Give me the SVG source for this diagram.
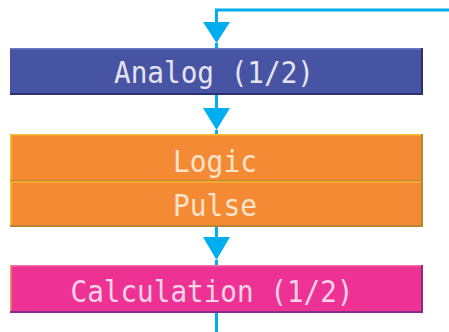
<svg xmlns="http://www.w3.org/2000/svg" width="449" height="332" viewBox="0 0 449 332">
<style>
.conn{stroke:#00aeef;stroke-width:3;fill:none}
.lbl{font-family:"DejaVu Sans Mono","Liberation Mono",monospace;font-size:30px;text-anchor:middle}
</style>
<g id="connectors">
<path class="conn" d="M449,10 H216.5 V22"/>
<path d="M203,22 L230,22 L216.5,43 Z" fill="#00aeef"/>
<line class="conn" x1="216.5" y1="43" x2="216.5" y2="48"/>
<line class="conn" x1="216.5" y1="95" x2="216.5" y2="108"/>
<path d="M203,108 L230,108 L216.5,130 Z" fill="#00aeef"/>
<line class="conn" x1="216.5" y1="130" x2="216.5" y2="134"/>
<line class="conn" x1="216.5" y1="227" x2="216.5" y2="238"/>
<path d="M203,237 L230,237 L216.5,260 Z" fill="#00aeef"/>
<line class="conn" x1="216.5" y1="260" x2="216.5" y2="265"/>
<line class="conn" x1="216.5" y1="313" x2="216.5" y2="332"/>
</g>
<g id="analog">
<rect x="10" y="48" width="413" height="47" fill="#4654a3"/>
<rect x="10" y="48" width="413" height="1.5" fill="#6a78c0"/>
<rect x="10" y="93" width="413" height="2" fill="#2c3170"/>
<rect x="421" y="48" width="2" height="47" fill="#2c3170"/>
<text class="lbl" x="214" y="83" fill="#e6e2f2" textLength="200" lengthAdjust="spacingAndGlyphs">Analog (1/2)</text>
</g>
<g id="logic-pulse">
<rect x="10" y="134" width="413" height="93" fill="#f48a33"/>
<rect x="10" y="134" width="413" height="1.5" fill="#f6c030"/>
<rect x="10" y="134" width="1.5" height="93" fill="#f6c030"/>
<rect x="10" y="180" width="413" height="1.2" fill="#b8862f"/>
<rect x="10" y="181.2" width="413" height="1.2" fill="#f6c030"/>
<rect x="10" y="225" width="413" height="2" fill="#b8862f"/>
<rect x="421" y="134" width="2" height="93" fill="#b8862f"/>
<text class="lbl" x="215" y="172" fill="#fde3cc" textLength="84" lengthAdjust="spacingAndGlyphs">Logic</text>
<text class="lbl" x="215" y="216" fill="#fde3cc" textLength="84" lengthAdjust="spacingAndGlyphs">Pulse</text>
</g>
<g id="calculation">
<rect x="10" y="265" width="413" height="48" fill="#ee3294"/>
<rect x="10" y="265" width="413" height="1.5" fill="#f070a8"/>
<rect x="10" y="265" width="1.5" height="48" fill="#f59a5a"/>
<rect x="10" y="311" width="413" height="2" fill="#8a2a8a"/>
<rect x="421" y="265" width="2" height="48" fill="#8a2a8a"/>
<text class="lbl" x="212" y="302" fill="#f9d3e6" textLength="283" lengthAdjust="spacingAndGlyphs">Calculation (1/2)</text>
</g>
</svg>
